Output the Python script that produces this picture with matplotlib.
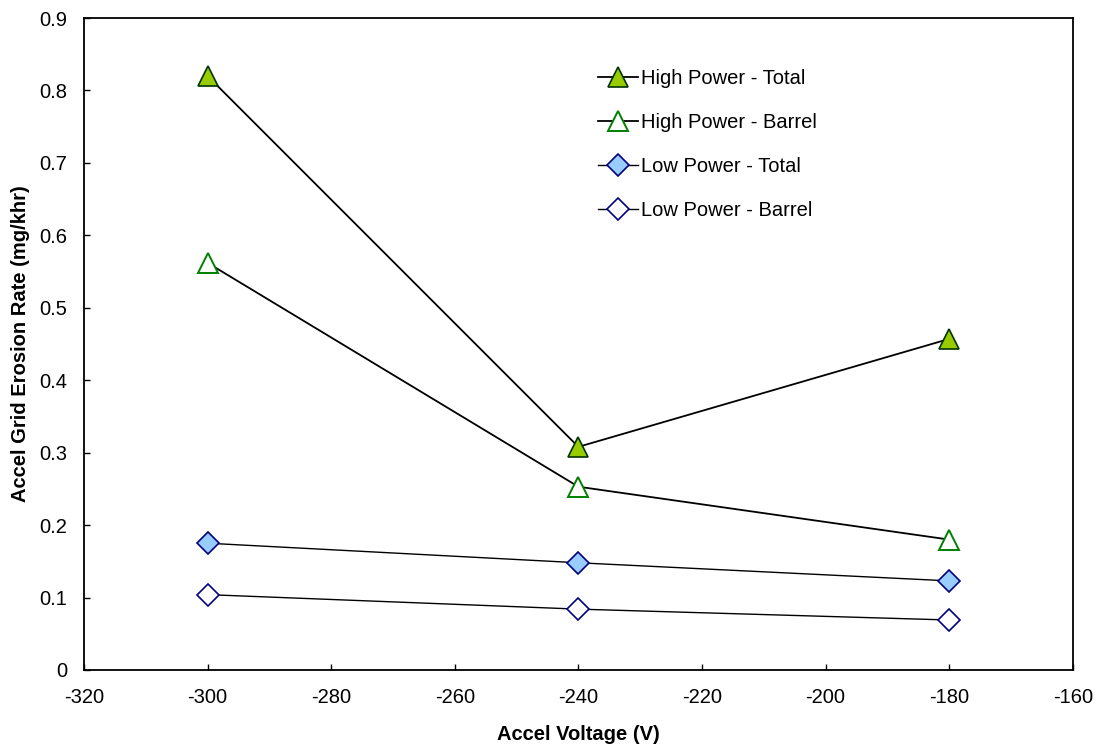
import matplotlib.pyplot as plt

plt.rcParams['font.family'] = ['Liberation Sans', 'DejaVu Sans']
plt.rcParams['axes.unicode_minus'] = False

voltage = [-300, -240, -180]
hp_total = [0.82, 0.308, 0.457]
hp_barrel = [0.562, 0.253, 0.18]
lp_total = [0.175, 0.148, 0.123]
lp_barrel = [0.104, 0.084, 0.069]

fig = plt.figure(figsize=(10.98, 7.45), dpi=100)
ax = fig.add_axes([0.0765, 0.1007, 0.9005, 0.8751])

ax.plot(voltage, hp_total, color='black', lw=1.3, marker='^', ms=15,
        mfc='#99CC00', mec='#003300', mew=1.2, label='High Power - Total')
ax.plot(voltage, hp_barrel, color='black', lw=1.3, marker='^', ms=15,
        mfc='white', mec='#008000', mew=1.4, label='High Power - Barrel')
ax.plot(voltage, lp_total, color='black', lw=1.0, marker='D', ms=11,
        mfc='#99CCFF', mec='#000080', mew=1.2, label='Low Power - Total')
ax.plot(voltage, lp_barrel, color='black', lw=1.0, marker='D', ms=11,
        mfc='white', mec='#000080', mew=1.2, label='Low Power - Barrel')

ax.set_xlim(-320, -160)
ax.set_ylim(0, 0.9)
ax.set_xticks(range(-320, -159, 20))
ax.set_yticks([0, 0.1, 0.2, 0.3, 0.4, 0.5, 0.6, 0.7, 0.8, 0.9])
ax.set_yticklabels(['0', '0.1', '0.2', '0.3', '0.4', '0.5', '0.6', '0.7', '0.8', '0.9'])
ax.tick_params(direction='in', length=4, width=1, labelsize=14.5)
ax.tick_params(axis='x', pad=13)
ax.tick_params(axis='y', pad=12)
for s in ax.spines.values():
    s.set_linewidth(1.3)

ax.set_xlabel('Accel Voltage (V)', fontsize=14.5, fontweight='bold', labelpad=13)
ax.set_ylabel('Accel Grid Erosion Rate (mg/khr)', fontsize=14.5, fontweight='bold', labelpad=6.5)

ax.legend(loc='upper left', bbox_to_anchor=(0.52, 0.922), frameon=False, fontsize=14.5,
          labelspacing=1.25, handlelength=2.0, handletextpad=0.15,
          borderpad=0, borderaxespad=0)

fig.savefig('out.png', dpi=100)
